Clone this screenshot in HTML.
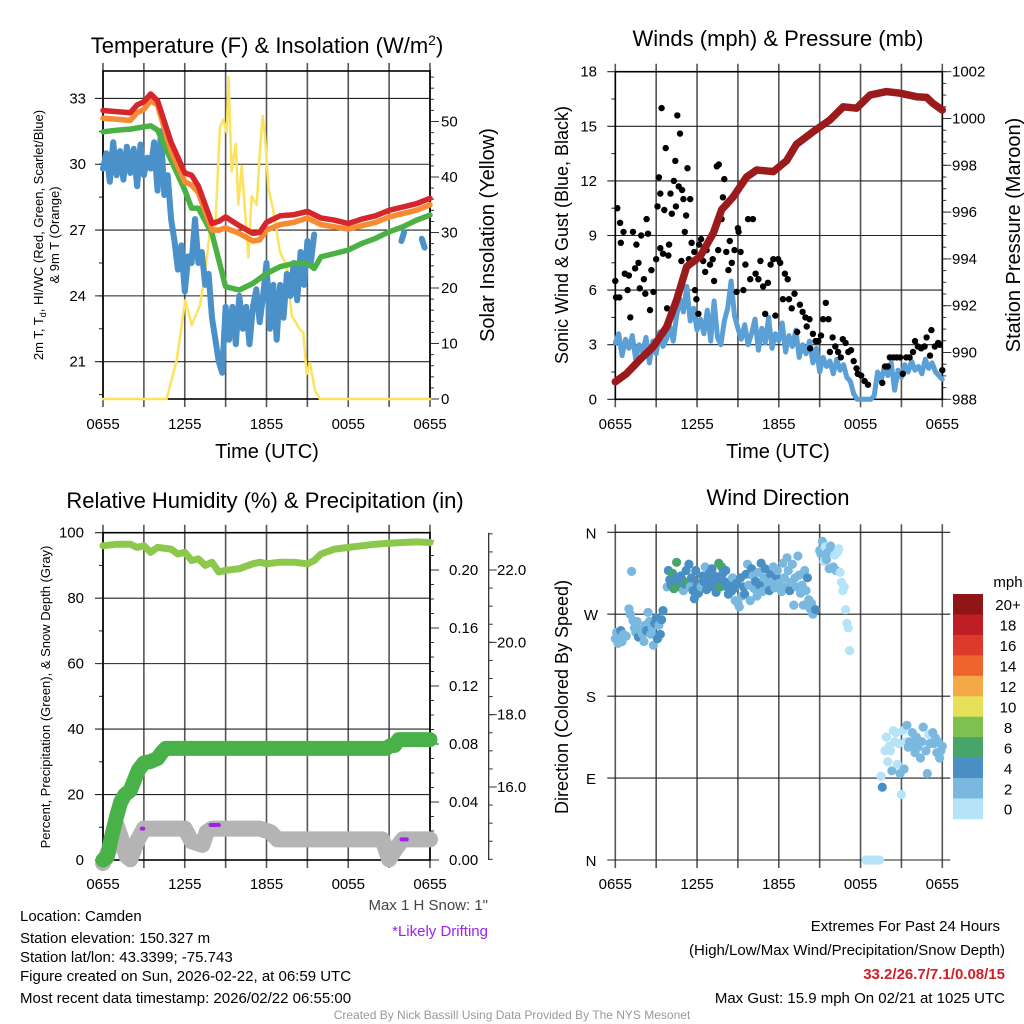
<!DOCTYPE html>
<html><head><meta charset="utf-8">
<style>
html,body{margin:0;padding:0;background:#fff;}
svg{display:block;font-family:"Liberation Sans",Arial,sans-serif;}
</style></head>
<body>
<svg id="chart" width="1024" height="1024" viewBox="0 0 1024 1024" xmlns="http://www.w3.org/2000/svg">
<rect x="0" y="0" width="1024" height="1024" fill="#fff"/>
<g id="layer"></g>
<text x="267" y="53" font-size="22" text-anchor="middle">Temperature (F) &amp; Insolation (W/m<tspan dy="-8" font-size="14">2</tspan><tspan dy="8">)</tspan></text>
<text x="778" y="46" font-size="22" text-anchor="middle">Winds (mph) &amp; Pressure (mb)</text>
<text x="265" y="508" font-size="22" text-anchor="middle">Relative Humidity (%) &amp; Precipitation (in)</text>
<text x="778" y="505" font-size="22" text-anchor="middle">Wind Direction</text>
<text x="267" y="458" font-size="20" text-anchor="middle">Time (UTC)</text>
<text x="778" y="458" font-size="20" text-anchor="middle">Time (UTC)</text>
<text transform="translate(43,235) rotate(-90)" font-size="13" text-anchor="middle">2m T, T<tspan dy="3" font-size="9">d</tspan><tspan dy="-3">, HI/WC (Red, Green, Scarlet/Blue)</tspan></text>
<text transform="translate(59,235) rotate(-90)" font-size="13" text-anchor="middle">&amp; 9m T (Orange)</text>
<text transform="translate(494,235) rotate(-90)" font-size="20" text-anchor="middle">Solar Insolation (Yellow)</text>
<text transform="translate(568,235) rotate(-90)" font-size="18" text-anchor="middle">Sonic Wind &amp; Gust (Blue, Black)</text>
<text transform="translate(1020,235) rotate(-90)" font-size="20" text-anchor="middle">Station Pressure (Maroon)</text>
<text transform="translate(50,697) rotate(-90)" font-size="13" text-anchor="middle">Percent, Precipitation (Green), &amp; Snow Depth (Gray)</text>
<text transform="translate(568,697) rotate(-90)" font-size="18" text-anchor="middle">Direction (Colored By Speed)</text>
<text x="488" y="910" font-size="15" text-anchor="end" fill="#444">Max 1 H Snow: 1"</text>
<text x="488" y="936" font-size="15" text-anchor="end" fill="#a020f0">*Likely Drifting</text>
<g font-size="15">
<text x="20" y="921">Location: Camden</text>
<text x="20" y="943">Station elevation: 150.327 m</text>
<text x="20" y="962">Station lat/lon: 43.3399; -75.743</text>
<text x="20" y="981">Figure created on Sun, 2026-02-22, at 06:59 UTC</text>
<text x="20" y="1003">Most recent data timestamp: 2026/02/22 06:55:00</text>
</g>
<g font-size="15" text-anchor="end">
<text x="1000" y="931">Extremes For Past 24 Hours</text>
<text x="1005" y="955">(High/Low/Max Wind/Precipitation/Snow Depth)</text>
<text x="1005" y="979" fill="#d21f26" font-weight="bold">33.2/26.7/7.1/0.08/15</text>
<text x="1005" y="1003">Max Gust: 15.9 mph On 02/21 at 1025 UTC</text>
</g>
<text x="512" y="1019" font-size="12" fill="#999" text-anchor="middle">Created By Nick Bassill Using Data Provided By The NYS Mesonet</text>
</svg>
<script>
// ---------- data ----------
const timeTickLabels = ["0655","1255","1855","0055","0655"];
const tempTimes = [0,1,2,2.5,3,3.5,4,5,6,6.5,7,8,8.5,9,10,11,11.5,12,13,14,15,16,17,18,19,20,21,22,23,24];
const tempRed = [32.45,32.4,32.35,32.7,32.85,33.2,32.9,31.0,29.6,29.5,29.0,27.3,27.4,27.6,27.2,26.85,26.9,27.35,27.65,27.7,27.85,27.55,27.45,27.3,27.5,27.65,27.9,28.05,28.2,28.45];
const tempOrange = [32.1,32.05,32.0,32.35,32.5,32.9,32.7,30.6,29.2,29.05,28.7,27.0,27.0,27.1,26.85,26.5,26.55,27.0,27.25,27.35,27.55,27.25,27.15,27.05,27.2,27.35,27.6,27.75,27.9,28.15];
const greenTimes = [0,1,2,3,3.5,4,5,6,6.5,7,8,8.5,9,10,11,12,13,14,15,15.5,16,17,18,19,20,21,22,23,24];
const tempGreen = [31.48,31.55,31.6,31.7,31.75,31.56,30.19,28.82,28.0,27.99,26.85,25.63,24.42,24.27,24.57,25.02,25.33,25.48,25.48,25.25,25.78,25.93,26.09,26.39,26.62,26.92,27.15,27.45,27.68];
const dewStart = 0, dewStep = 0.25;
const dewBlue = [29.8,30.5,29.2,31.0,29.5,30.6,29.3,30.8,29.6,30.7,29.0,30.9,29.5,30.3,29.8,31.0,
 28.8,31.5,28.6,29.5,27.5,26.5,25.2,26.3,24.2,25.8,25.5,27.5,
 25.5,26.0,24.5,25.0,23.0,22.0,21.0,20.5,23.5,22.0,23.5,21.8,
 24.0,22.5,23.5,21.8,23.5,24.3,22.8,24.0,25.5,22.5,24.5,22.0,
 24.5,23.0,25.0,24.0,25.5,23.8,26.0,24.5,26.5,25.5,26.8];
const dewExtraTimes = [21.9,22.1,23.4,23.6];
const dewExtraVals = [26.5,26.9,26.6,26.2];
const solarTimes = [0,4.67,5.41,6.04,6.51,7.12,7.49,7.85,8.22,8.59,8.83,9.08,9.22,9.44,9.74,9.93,10.18,10.42,10.67,10.91,11.28,11.52,11.72,11.89,12.14,12.5,12.99,13.48,13.85,14.46,14.7,14.95,15.19,15.56,15.93,24];
const solarVals = [0,0,7,17.8,13.3,16.9,22.7,30.5,30,49,50.3,48,58,41,46,35,42,34,25.5,36.5,35,45,51,47.5,38,34,26.5,24,15,12.5,12,4.5,6.5,1.5,0,0];
const presTimes = [0,0.83,1.81,2.79,3.77,4.5,5.24,6.22,7.19,7.8,8.66,9.64,10.38,11.6,12.58,13.3,14.53,15.76,16.73,17.71,18.69,19.9,20.9,22.1,22.85,23.3,24];
const presVals = [988.75,989.1,989.7,990.25,991.1,992.24,993.67,994.1,995.1,996.1,996.66,997.5,997.8,997.73,998.2,998.9,999.44,999.94,1000.5,1000.44,1001.0,1001.15,1001.08,1000.93,1000.9,1000.65,1000.36];
const windStep = 0.25;
const windVals = [3.1,3.6,2.4,3.3,2.8,3.5,2.2,3.0,2.6,3.4,2.0,3.2,2.5,3.7,2.9,3.3,
 4.0,3.2,4.6,5.5,4.8,6.2,4.3,5.0,3.8,4.4,3.6,4.9,3.2,5.4,3.4,3.0,
 4.3,5.0,6.5,4.6,3.9,3.3,4.1,3.0,3.6,4.4,2.7,3.9,3.1,4.5,2.8,3.6,
 3.2,4.2,2.6,3.5,2.9,3.8,2.3,3.0,2.5,3.2,2.0,2.8,1.5,2.3,1.8,2.1,
 1.4,2.2,1.6,1.9,1.2,1.0,0.3,0,0,0,0,0,0.2,1.5,1.0,1.8,
 1.3,2.0,0.5,1.6,1.2,1.9,1.5,2.1,1.6,1.8,1.4,2.2,1.7,2.0,1.5,1.3,1.1];
const gustTimes = [0.0,0.05,0.15,0.3,0.35,0.4,0.6,0.7,0.9,1.0,1.1,1.3,1.45,1.55,1.7,1.8,1.9,2.1,2.2,2.3,2.4,2.55,2.65,2.8,3.0,3.1,3.2,3.3,3.3,3.4,3.5,3.6,3.7,3.8,3.9,3.95,4.05,4.15,4.3,4.4,4.45,4.55,4.65,4.75,4.85,4.9,5.0,5.1,5.2,5.3,5.4,5.5,5.6,5.8,5.85,5.95,6.1,6.15,6.3,6.45,6.6,6.7,6.95,7.15,7.25,7.45,7.55,7.6,7.8,7.85,7.9,8.0,8.15,8.3,8.4,8.55,8.75,8.9,9.0,9.05,9.2,9.4,9.55,9.75,9.9,10.1,10.3,10.5,10.65,10.85,11.0,11.2,11.4,11.6,11.75,11.95,12.1,12.3,12.45,12.65,12.75,12.95,13.15,13.35,13.55,13.75,13.95,14.05,14.25,14.3,14.5,14.7,14.9,15.1,15.25,15.45,15.65,15.75,15.95,16.15,16.35,16.55,16.7,16.9,17.1,17.3,17.5,17.7,17.8,18.05,18.3,18.55,19.6,19.8,20.0,20.15,20.4,20.65,20.9,21.1,21.35,21.6,21.85,22.0,22.2,22.45,22.7,22.85,23.1,23.2,23.45,23.7,23.8,24.0];
const gustVals = [6.5,5.6,10.5,5.6,9.7,8.6,9.2,6.9,6.0,6.8,4.5,9.2,7.2,8.5,7.5,6.1,9.0,6.6,5.8,9.9,9.1,4.9,7.1,5.9,7.7,10.6,12.2,11.3,8.3,16.0,8.0,10.4,13.8,5.0,7.9,8.5,11.3,10.2,12.0,13.1,10.6,15.6,11.7,14.6,7.6,11.5,11.0,9.2,10.1,12.7,7.7,11.0,8.6,8.1,6.0,5.5,4.7,8.5,8.8,7.6,7.0,8.2,7.4,7.7,6.5,12.8,8.2,12.9,9.9,10.5,11.1,12.1,8.1,7.1,8.7,7.5,8.2,5.9,9.4,9.2,8.1,6.0,7.4,9.9,6.6,9.9,6.9,6.6,7.6,6.2,4.7,6.4,7.4,7.7,4.6,7.7,7.5,5.5,6.9,6.6,5.5,5.0,5.8,3.7,5.2,4.8,4.5,4.0,4.4,2.8,3.6,3.2,3.2,3.5,4.4,5.3,4.4,2.6,3.4,2.9,2.6,2.3,3.3,3.1,2.6,2.7,2.1,1.7,1.4,1.3,1.0,0.8,0.9,1.8,1.8,2.3,2.3,2.3,2.3,1.4,2.3,2.3,2.6,3.2,2.9,2.8,2.9,3.4,2.4,3.8,2.9,3.1,3.0,1.6];
const rhTimes = [0,1,2,2.5,3,3.5,4,5,5.5,6,6.5,7,7.5,8,8.5,9,10,11,11.5,12,13,14,15,15.5,16,17,18,19,20,21,22,23,24];
const rhVals = [96,96.5,96.5,95.5,96,94,95.5,95,93.5,94,91.5,92,90,91,88,88.5,89,90.5,91,90.5,91,91,90.5,91.5,93.5,95,95.5,96,96.5,96.8,97,97.2,97];
const precipTimes = [0,0.3,0.6,1,1.3,1.6,2,2.3,2.6,3,3.5,4,4.3,4.6,20.8,21.1,21.4,21.7,24];
const precipVals = [0,0.002,0.015,0.03,0.04,0.045,0.048,0.055,0.062,0.067,0.068,0.07,0.074,0.077,0.077,0.079,0.079,0.083,0.083];
const snowTimes = [0,0.5,1,1.4,1.7,2,2.5,3,6,6.5,7.3,7.6,8,11.5,12.3,12.8,20.5,21,21.5,22,24];
const snowVals = [13.9,14.3,14.95,14.5,14.1,14.0,14.5,14.85,14.85,14.5,14.4,14.75,14.85,14.85,14.75,14.55,14.55,14.0,14.3,14.55,14.55];
const driftTimes = [[2.85,2.95],[7.9,8.5],[21.9,22.3]];
const driftVals = [14.85,14.95,14.55];
const dirTimes = [0.0,0.1,0.2,0.3,0.4,0.5,0.6,0.8,1.0,1.1,1.2,1.3,1.4,1.5,1.6,1.7,1.8,2.0,2.1,2.2,2.3,2.4,2.5,2.6,2.7,2.8,2.9,3.0,3.1,3.2,3.3,3.4,3.5,
3.8,3.9,4.0,4.1,4.2,4.3,4.4,4.5,4.6,4.7,4.8,4.9,5.0,5.1,5.2,5.3,5.4,5.5,5.6,5.7,5.8,5.9,6.0,6.1,6.3,6.4,6.5,6.6,6.7,6.8,6.9,7.0,7.1,7.2,7.3,7.4,7.5,7.6,7.7,7.8,7.9,8.0,8.1,8.2,8.3,8.4,8.5,8.6,8.7,8.8,8.9,9.0,9.1,9.2,9.3,9.4,9.5,9.6,9.7,9.8,9.9,10.0,10.1,10.2,10.3,10.4,10.5,10.6,10.7,10.8,10.9,11.0,11.1,11.2,11.3,11.4,11.5,11.6,11.7,11.8,11.9,12.0,12.2,12.3,12.4,12.5,12.6,12.7,12.8,12.9,13.0,13.1,13.2,13.3,13.4,13.5,13.6,13.7,13.8,13.9,14.0,14.1,14.2,14.3,14.4,14.5,14.7,
15.0,15.1,15.2,15.3,15.4,15.5,15.6,15.7,15.8,15.9,16.0,16.1,16.2,16.3,16.4,16.5,16.6,16.7,16.8,16.9,17.0,17.1,17.2,
18.4,18.6,18.8,19.0,19.2,19.4,
19.5,19.6,19.8,19.9,20.0,20.1,20.2,20.3,20.4,20.5,20.6,20.7,20.8,20.9,21.0,21.1,21.2,21.3,21.4,21.5,21.6,21.8,21.9,22.0,22.1,22.2,22.4,22.5,22.6,22.8,22.9,23.0,23.1,23.3,23.4,23.5,23.6,23.7,23.8,23.9,24.0];
const dirVals = [243,250,238,245,252,240,248,246,276,270,317,263,255,250,262,245,253,248,240,258,252,272,262,248,255,236,260,266,243,258,248,264,274,
300,318,308,302,315,298,310,327,304,300,312,308,296,303,318,305,325,300,310,296,287,318,304,293,300,312,306,322,297,309,315,303,320,300,312,294,308,326,300,322,315,306,318,300,292,305,295,310,298,285,304,282,278,310,290,300,292,314,325,302,285,320,312,298,306,290,316,302,326,295,310,320,308,300,296,314,306,322,299,312,318,304,295,326,310,300,332,318,296,305,325,280,310,300,334,313,293,302,280,318,296,310,286,276,282,270,275,
340,336,350,328,344,330,338,320,345,340,322,335,318,338,342,316,305,296,300,275,260,255,230,
0,0,0,0,0,0,
92,80,120,135,108,125,120,98,142,130,140,105,128,95,72,142,100,130,148,124,130,140,126,118,135,124,112,130,146,120,95,138,128,140,128,134,118,130,112,120,125];
const dirSpeeds = [2.5,2.5,3.5,2.5,4.5,2.5,3,2.5,2.5,3,2.5,2.5,2.5,3,2.5,4.5,2.5,3,2.5,2.5,4.5,2.5,2.5,3,2.5,2.5,4.5,4.5,4.5,2.5,4.5,4.5,4.5,
2.5,4.5,4.5,4.5,7,7,4.5,7,4.5,7,4.5,4.5,2.5,4.5,4.5,7,4.5,2.5,4.5,4.5,4.5,4.5,4.5,4.5,2.5,4.5,4.5,2.5,4.5,4.5,4.5,4.5,4.5,4.5,4.5,4.5,4.5,7,7,7,4.5,4.5,4.5,4.5,4.5,4.5,4.5,2.5,4.5,2.5,4.5,2.5,2.5,4.5,2.5,4.5,4.5,4.5,2.5,2.5,2.5,4.5,2.5,2.5,4.5,2.5,2.5,4.5,4.5,2.5,2.5,4.5,2.5,2.5,4.5,4.5,2.5,2.5,2.5,4.5,2.5,2.5,2.5,2.5,2.5,2.5,2.5,2.5,4.5,2.5,2.5,2.5,2.5,2.5,2.5,2.5,2.5,2.5,2.5,2.5,2.5,4.5,2.5,2.5,2.5,2.5,4.5,2.5,
2.5,2.5,1,1,2.5,2.5,2.5,2.5,2.5,2.5,1,2.5,1,1,1,1,1,1,1,1,1,1,1,
0,0,0,0,0,0,
4.5,1,1,1,1,1,2.5,1,1,1,1,1,2.5,1,1,2.5,1,2.5,3.5,2.5,2.5,3.5,2.5,2.5,2.5,3.5,2.5,2.5,3.5,2.5,1,2.5,2.5,3.5,2.5,2.5,2.5,2.5,2.5,2.5,2.5];
const speedBinLabels = ["20+","18","16","14","12","10","8","6","4","2","0"];
const speedBinColors = ["#8f1519","#bf1e25","#de3a2b","#ee642c","#f4a946","#e6e05a","#7dc14f","#47a56a","#4a8fc4","#7ab8e0","#b5e3f7"];
const dirTickLabels = ["N","E","S","W","N"];

// ---------- helpers ----------
const NS = "http://www.w3.org/2000/svg";
const layer = document.getElementById("layer");
function mk(tag, attrs, parent) {
  const e = document.createElementNS(NS, tag);
  for (const k in attrs) e.setAttribute(k, attrs[k]);
  (parent || layer).appendChild(e);
  return e;
}
function xT(p, h) { return p.x0 + (p.x1 - p.x0) * h / 24; }
function lin(d0, d1, r0, r1) { return v => r0 + (v - d0) * (r1 - r0) / (d1 - d0); }
function poly(pts, color, w, name, parent) {
  const el = mk("polyline", {points: pts.map(p => p[0].toFixed(1) + "," + p[1].toFixed(1)).join(" "), fill: "none", stroke: color, "stroke-width": w, "stroke-linejoin": "round", "stroke-linecap": "round"}, parent);
  
  
  return el;
}
function label(x, y, s, anchor, size, name, color) {
  const t = mk("text", {x: x, y: y, "font-size": size || 15, "text-anchor": anchor || "middle", fill: color || "#000"});
  t.textContent = s;
  
  
  return t;
}
function frame(p, name) {
  const g = mk("g", {});
  
  
  for (let i = 0; i <= 8; i++) {
    const x = xT(p, i * 3);
    mk("line", {x1: x, x2: x, y1: p.y0 - 8, y2: p.y1 + 8, stroke: "#555", "stroke-width": 1.6}, g);
  }
  return g;
}
function hgrid(p, g, ys, left, right) {
  ys.forEach(y => mk("line", {x1: p.x0 - (left || 8), x2: p.x1 + (right || 0), y1: y, y2: y, stroke: "#222", "stroke-width": 1.1}, g));
}
function ticksLeft(p, g, ys, len) { ys.forEach(y => mk("line", {x1: p.x0 - len, x2: p.x0, y1: y, y2: y, stroke: "#222", "stroke-width": 1}, g)); }
function ticksRight(x, g, ys, len) { ys.forEach(y => mk("line", {x1: x, x2: x + len, y1: y, y2: y, stroke: "#333", "stroke-width": 1}, g)); }
function border(p, g) {
  mk("rect", {x: p.x0, y: p.y0, width: p.x1 - p.x0, height: p.y1 - p.y0, fill: "none", stroke: "#000", "stroke-width": 1.6}, g);
}
function xLabels(p, y) {
  timeTickLabels.forEach((s, i) => label(xT(p, i * 6), y, s, "middle", 15, "x-tick-label"));
}
function range(a, b, s) { const r = []; for (let v = a; v <= b + 1e-9; v += s) r.push(v); return r; }

// ---------- Panel 1 ----------
const P1 = {x0: 103, x1: 430, y0: 71, y1: 399};
const tY = lin(19.3, 34.25, 399, 71);
const sY = lin(0, 59.1, 399, 71);
{
  const g = frame(P1, "temperature-grid");
  hgrid(P1, g, [21, 24, 27, 30, 33].map(tY), 8);
  ticksLeft(P1, g, range(19.5, 34, 1.5).map(tY), 4);
  ticksRight(P1.x1, g, range(0, 50, 10).map(sY), 9);
  ticksRight(P1.x1, g, range(0, 58, 2).map(sY), 4);
  [21, 24, 27, 30, 33].forEach(v => label(86, tY(v) + 5, String(v), "end", 15, "temperature-y-tick-label"));
  [0, 10, 20, 30, 40, 50].forEach(v => label(441, sY(v) + 5, String(v), "start", 15, "insolation-y-tick-label"));
  xLabels(P1, 429);
  const d = mk("g", {});
  
  
  poly(solarTimes.map((h, i) => [xT(P1, h), sY(solarVals[i])]), "#fde35d", 2.5, "solar-insolation-line", d);
  poly(dewBlue.map((v, i) => [xT(P1, dewStart + i * dewStep), tY(v)]), "#4a90c9", 6, "dewpoint-line", d);
  for (let i = 0; i < dewExtraTimes.length; i += 2) {
    poly([[xT(P1, dewExtraTimes[i]), tY(dewExtraVals[i])], [xT(P1, dewExtraTimes[i + 1]), tY(dewExtraVals[i + 1])]], "#4a90c9", 6, "dewpoint-fragment", d);
  }
  poly(greenTimes.map((h, i) => [xT(P1, h), tY(tempGreen[i])]), "#4cb144", 5.5, "heat-index-line", d);
  poly(tempTimes.map((h, i) => [xT(P1, h), tY(tempOrange[i])]), "#f68b33", 5.5, "temp-9m-line", d);
  poly(tempTimes.map((h, i) => [xT(P1, h), tY(tempRed[i])]), "#d7262b", 5.5, "temp-2m-line", d);
  border(P1, g);
}

// ---------- Panel 2 ----------
const P2 = {x0: 615.3, x1: 942.3, y0: 71.7, y1: 399.3};
const wY = lin(0, 18, 399.3, 71.7);
const pY = lin(988, 1002, 399.3, 71.7);
{
  const g = frame(P2, "winds-grid");
  hgrid(P2, g, range(0, 18, 3).map(wY), 8);
  ticksLeft(P2, g, range(1.5, 16.5, 3).map(wY), 4);
  ticksRight(P2.x1, g, range(988, 1002, 2).map(pY), 9);
  ticksRight(P2.x1, g, range(988, 1002, 0.5).map(pY), 4);
  range(0, 18, 3).forEach(v => label(597, wY(v) + 5, String(v), "end", 15, "wind-y-tick-label"));
  range(988, 1002, 2).forEach(v => label(952, pY(v) + 5, String(v), "start", 15, "pressure-y-tick-label"));
  xLabels(P2, 429);
  const d = mk("g", {});
  
  
  poly(windVals.map((v, i) => [xT(P2, i * windStep), wY(v)]), "#5a9fd6", 5, "sonic-wind-line", d);
  gustTimes.forEach((h, i) => {
    const c = mk("circle", {cx: xT(P2, h).toFixed(1), cy: wY(gustVals[i]).toFixed(1), r: 3.2, fill: "#000"}, d);
    
    
  });
  poly(presTimes.map((h, i) => [xT(P2, h), pY(presVals[i])]), "#9b1b1d", 7.5, "pressure-line", d);
  border(P2, g);
}

// ---------- Panel 3 ----------
const P3 = {x0: 103, x1: 430, y0: 532.7, y1: 860};
const rY = lin(0, 100, 860, 532.7);
const prY = lin(0, 0.2, 860, 570);
const snY = lin(16, 22, 787, 570);
{
  const g = frame(P3, "humidity-grid");
  hgrid(P3, g, range(0, 100, 20).map(rY), 8);
  ticksLeft(P3, g, range(10, 90, 20).map(rY), 4);
  ticksRight(P3.x1, g, range(0, 0.2, 0.04).map(prY), 9);
  ticksRight(P3.x1, g, range(0, 0.225, 0.01).map(prY), 4);
  range(0, 100, 20).forEach(v => label(84, rY(v) + 5, String(v), "end", 15, "humidity-y-tick-label"));
  range(0, 0.2, 0.04).forEach(v => label(449, prY(v) + 5, v.toFixed(2), "start", 15, "precip-y-tick-label"));
  mk("line", {x1: 488.7, x2: 488.7, y1: 532.7, y2: 860, stroke: "#222", "stroke-width": 1.2}, g);
  ticksRight(488.7, g, [16, 18, 20, 22].map(snY), 8);
  ticksRight(488.7, g, range(14, 23, 0.5).map(snY), 4);
  [16, 18, 20, 22].forEach(v => label(497, snY(v) + 5, v.toFixed(1), "start", 15, "snow-y-tick-label"));
  xLabels(P3, 889);
  const d = mk("g", {});
  
  
  poly(snowTimes.map((h, i) => [xT(P3, h), snY(snowVals[i])]), "#b4b4b4", 16, "snow-depth-line", d);
  poly(precipTimes.map((h, i) => [xT(P3, h), prY(precipVals[i])]), "#48b148", 15, "precipitation-line", d);
  poly(rhTimes.map((h, i) => [xT(P3, h), rY(rhVals[i])]), "#8cc84b", 7, "relative-humidity-line", d);
  driftTimes.forEach((t, i) => poly([[xT(P3, t[0]), snY(driftVals[i])], [xT(P3, t[1]), snY(driftVals[i])]], "#a020f0", 4, "drifting-marker", d));
  border(P3, g);
}

// ---------- Panel 4 ----------
const P4 = {x0: 615.3, x1: 942.3, y0: 532.3, y1: 860};
const dY = lin(0, 360, 860, 532.3);
function speedColor(s) {
  const idx = Math.min(10, Math.floor(s / 2));
  return speedBinColors[10 - idx];
}
{
  const g = frame(P4, "direction-grid");
  hgrid(P4, g, range(0, 360, 90).map(dY), 8, 8);
  dirTickLabels.forEach((s, i) => label(591, dY(i * 90) + 6, s, "middle", 15, "direction-y-tick-label"));
  xLabels(P4, 889);
  const d = mk("g", {});
  
  
  dirTimes.forEach((h, i) => {
    const c = mk("circle", {cx: xT(P4, h).toFixed(1), cy: dY(dirVals[i]).toFixed(1), r: 4.6, fill: speedColor(dirSpeeds[i])}, d);
    
    
  });
  mk("line", {x1: P4.x0, x2: P4.x1, y1: P4.y0, y2: P4.y0, stroke: "#222", "stroke-width": 1}, g);
  const cb = mk("g", {});
  
  
  const cbTop = 594, cbH = 20.45;
  speedBinColors.forEach((c, i) => {
    const r = mk("rect", {x: 953, y: cbTop + i * cbH, width: 30, height: cbH + 0.3, fill: c}, cb);
    
    
  });
  speedBinLabels.forEach((s, i) => label(1008, cbTop + i * cbH + cbH / 2 + 6, s, "middle", 15, "colorbar-label"));
  label(1008, 587, "mph", "middle", 15, "colorbar-unit");
}
</script>
</body></html>
